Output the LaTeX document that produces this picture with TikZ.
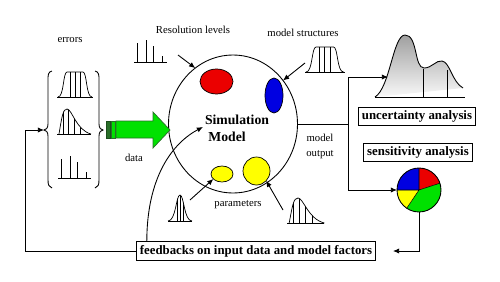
\documentclass[tikz,border=0pt]{standalone}
\usepackage{fontspec}
\setmainfont{Liberation Serif}
\usetikzlibrary{arrows.meta,shapes.geometric}

\definecolor{simred}{RGB}{235,0,0}
\definecolor{simblue}{RGB}{0,0,225}
\definecolor{simyellow}{RGB}{255,255,0}
\definecolor{simgreen}{RGB}{0,225,0}
\definecolor{darkgreen}{RGB}{40,110,40}

\tikzset{
  lbl/.style={font=\fontsize{6.1}{8.5}\selectfont, inner sep=0pt},
  abox/.style={draw, fill=white, line width=0.6pt, inner sep=2pt, font=\fontsize{7.3}{8}\selectfont\bfseries},
  simtext/.style={font=\fontsize{7.8}{9}\selectfont\bfseries, inner sep=0pt},
  conn/.style={line width=0.5pt, -{Latex[length=3.5pt,width=3pt]}},
  blob/.style={ellipse, draw, line width=0.4pt, inner sep=0pt, outer sep=0pt},
  pics/flattop/.style={code={
    \begin{scope}
      \clip (1,0) .. controls (7,0) and (6,-25) .. (10,-25) -- (26,-25) .. controls (30,-25) and (29,0) .. (35,0) -- cycle;
      \foreach \lx in {13,18,23} \draw[line width=0.4pt] (\lx,0) -- (\lx,-26);
    \end{scope}
    \draw[line width=0.4pt] (1,0) .. controls (7,0) and (6,-25) .. (10,-25) -- (26,-25) .. controls (30,-25) and (29,0) .. (35,0);
    \draw[line width=0.4pt] (0,0) -- (36,0);
  }},
  pics/skewdist/.style={code={
    \begin{scope}
      \clip (2,0) .. controls (5,-18) and (6,-25) .. (10,-25) .. controls (15,-25) and (19,-4) .. (34,0) -- cycle;
      \foreach \lx in {6,11,17,23} \draw[line width=0.4pt] (\lx,0) -- (\lx,-26);
    \end{scope}
    \draw[line width=0.4pt] (2,0) .. controls (5,-18) and (6,-25) .. (10,-25) .. controls (15,-25) and (19,-4) .. (34,0);
    \draw[line width=0.4pt] (0,0) -- (34,0);
  }},
  pics/gauss/.style={code={
    \begin{scope}
      \clip (0,0) .. controls (8,0) and (8,-26) .. (12,-26) .. controls (16,-26) and (16,0) .. (24,0) -- cycle;
      \foreach \lx in {9,12,15} \draw[line width=0.4pt] (\lx,0) -- (\lx,-27);
    \end{scope}
    \draw[line width=0.4pt] (0,0) .. controls (8,0) and (8,-26) .. (12,-26) .. controls (16,-26) and (16,0) .. (24,0);
    \draw[line width=0.4pt] (0,0) -- (24,0);
  }},
  pics/bars/.style={code={
    \draw[line width=0.4pt] (0,0) -- (33,0);
    \draw[line width=0.4pt] (3,0) -- (3,-19) (12,0) -- (12,-22) (19,0) -- (19,-16) (28,0) -- (28,-6);
  }}
}

\begin{document}
\begin{tikzpicture}[x=0.02cm, y=-0.02cm, line width=0.5pt]
  \useasboundingbox (0,0) rectangle (500,281);

  % simulation model
  \node[ellipse, draw, minimum width=2.58cm, minimum height=2.76cm, inner sep=0pt, outer sep=0pt] (sim) at (233,124) {};
  \node[blob, fill=simred, minimum width=0.66cm, minimum height=0.5cm] (red) at (216.5,81.5) {};
  \node[blob, fill=simblue, minimum width=0.36cm, minimum height=0.7cm] (blue) at (274,95.5) {};
  \node[blob, fill=simyellow, minimum width=0.44cm, minimum height=0.32cm] (yel1) at (222,174) {};
  \node[blob, fill=simyellow, minimum width=0.54cm, minimum height=0.56cm] (yel2) at (256.5,171) {};
  \node[simtext] (simtxt1) at (237,120) {Simulation};
  \node[simtext] (simtxt2) at (227,137) {Model};

  % errors
  \node[lbl] (errlbl) at (70,40) {errors};
  \draw (52,71) .. controls (48,72) and (48,75) .. (48,80) -- (48,124) .. controls (48,128) and (46,130) .. (44,130)
        .. controls (46,130) and (48,132) .. (48,136) -- (48,180) .. controls (48,185) and (49,187) .. (52,188);
  \draw (95,71) .. controls (99,72) and (99,75) .. (99,80) -- (99,124) .. controls (99,128) and (101,130) .. (103,130)
        .. controls (101,130) and (99,132) .. (99,136) -- (99,180) .. controls (99,185) and (98,187) .. (95,188);
  \coordinate (errin) at (44,130);
  \pic at (57,97) {flattop};
  \pic at (57,134) {skewdist};
  \pic at (58,178) {bars};

  % data arrow
  \draw[fill=darkgreen, draw=darkgreen!70!black, line width=0.4pt] (106,121) rectangle (110,138);
  \draw[fill=simgreen, draw=darkgreen, line width=0.4pt] (111,121) rectangle (115,138);
  \draw[fill=simgreen, draw=darkgreen, line width=0.4pt] (116,121) -- (153,121) -- (153,112) -- (170,130) -- (153,148) -- (153,138) -- (116,138) -- cycle;
  \node[lbl] (datalbl) at (134,158) {data};

  % model factors
  \node[lbl] (reslbl) at (193,30) {Resolution levels};
  \pic at (134,62) {bars};
  \coordinate (resfrom) at (178,55);
  \draw[conn] (resfrom) -- (sim.124);

  \node[lbl] (structlbl) at (303,33) {model structures};
  \pic[xscale=1.1] at (305,72) {flattop};
  \coordinate (structfrom) at (305,63);
  \draw[conn] (structfrom) -- (sim.41);

  \node[lbl] (parlbl) at (238,205) {parameters};
  \pic at (168,221) {gauss};
  \pic[xscale=1.1] at (287,223) {skewdist};
  \coordinate (parfromA) at (190,200);
  \coordinate (parfromB) at (283,210);
  \draw[conn] (parfromA) -- (yel1.210);
  \draw[conn] (parfromB) -- (yel2.-45);

  % output
  \node[lbl, align=center] (outlbl) at (320,146) {model\\output};
  \shade[top color=gray!75, bottom color=gray!5] (375,97) .. controls (390,88) and (393,35) .. (405,35)
        .. controls (418,35) and (414,68) .. (424,68) .. controls (432,68) and (436,60) .. (442,61)
        .. controls (450,62) and (452,82) .. (463,88) -- cycle;
  \draw (375,97) .. controls (390,88) and (393,35) .. (405,35)
        .. controls (418,35) and (414,68) .. (424,68) .. controls (432,68) and (436,60) .. (442,61)
        .. controls (450,62) and (452,82) .. (463,88);
  \draw (375,97) -- (465,97);
  \draw (423,69) -- (423,97) (447,70) -- (447,97);
  \node[abox] (unc) at (417,116.5) {uncertainty analysis};
  \node[abox] (sens) at (418,152.5) {sensitivity analysis};

  \fill[simred] (419,190) -- ++(90:0.44cm) arc[start angle=90, end angle=18, radius=0.44cm] -- cycle;
  \fill[simgreen] (419,190) -- ++(18:0.44cm) arc[start angle=18, end angle=-124, radius=0.44cm] -- cycle;
  \fill[simyellow] (419,190) -- ++(236:0.44cm) arc[start angle=236, end angle=180, radius=0.44cm] -- cycle;
  \fill[simblue] (419,190) -- ++(180:0.44cm) arc[start angle=180, end angle=90, radius=0.44cm] -- cycle;
  \draw[line width=0.3pt] (419,190) -- ++(90:0.44cm) (419,190) -- ++(18:0.44cm) (419,190) -- ++(236:0.44cm) (419,190) -- ++(180:0.44cm);
  \node[circle, draw, minimum size=0.88cm, inner sep=0pt, outer sep=0pt] (pie) at (419,190) {};

  \node[abox] (fb) at (256,251) {feedbacks on input data and model factors};

  % connectors
  \coordinate (split) at (348,124);
  \coordinate (unctip) at (388,77);
  \coordinate (fbtip) at (393,251);
  \coordinate (curvetip) at (203,127);
  \draw (sim.east) -- (split);
  \draw[conn] (split) |- (unctip);
  \draw[conn] (split) |- (pie.west);
  \draw[conn] (pie.south) |- (fbtip);
  \draw[conn] (fb.west) -- ++(-110,0) |- (errin);
  \draw[conn] ([xshift=0.22cm]fb.north west) .. controls (147,170) and (178,140) .. (curvetip);
\end{tikzpicture}
\end{document}
